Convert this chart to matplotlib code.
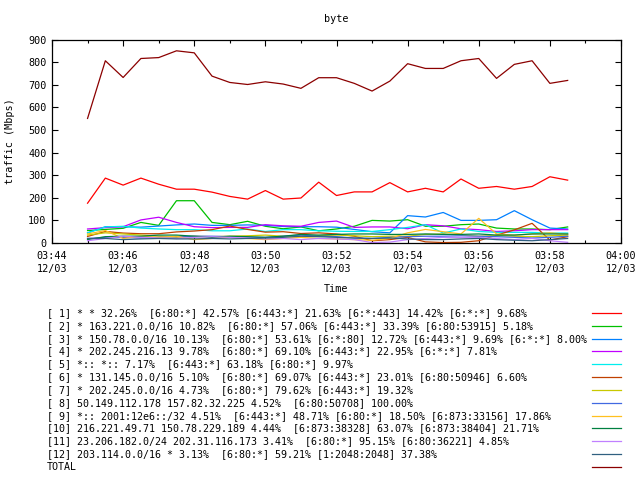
import matplotlib
matplotlib.use("Agg")
import matplotlib.pyplot as plt
import matplotlib.dates as mdates
import pandas as pd
from matplotlib.lines import Line2D

plt.rcParams['font.family'] = ['DejaVu Sans Mono']

times = pd.date_range('2023-12-03 03:45:00', periods=28, freq='30s')

s1 = [176, 287, 256, 287, 260, 238, 238, 225, 206, 194, 232, 194, 199, 269, 210, 226, 226, 267, 226, 242, 226, 283, 242, 250, 238, 250, 293, 278]
s2 = [55, 60, 65, 91, 78, 187, 187, 91, 81, 96, 74, 63, 71, 54, 62, 74, 100, 97, 103, 74, 74, 81, 84, 66, 62, 62, 59, 71]
s3 = [45, 72, 72, 70, 75, 80, 84, 78, 78, 80, 78, 73, 72, 72, 70, 60, 50, 45, 121, 115, 135, 100, 100, 103, 143, 103, 66, 62]
s4 = [62, 68, 72, 102, 114, 91, 72, 68, 69, 69, 81, 76, 74, 91, 97, 69, 71, 71, 63, 81, 76, 63, 59, 51, 54, 59, 59, 59]
s5 = [44, 71, 74, 66, 62, 59, 59, 54, 54, 62, 51, 59, 59, 54, 52, 51, 51, 59, 69, 81, 44, 62, 51, 47, 47, 47, 44, 44]
s6 = [29, 51, 44, 41, 41, 49, 53, 59, 75, 60, 48, 50, 42, 45, 40, 30, 10, 15, 25, 5, 2, 3, 10, 35, 58, 87, 13, 28]
s7 = [35, 45, 40, 35, 30, 25, 30, 28, 30, 32, 35, 30, 30, 33, 35, 32, 28, 30, 30, 38, 40, 35, 30, 33, 30, 28, 32, 35]
s8 = [20, 25, 25, 22, 25, 28, 30, 30, 28, 25, 25, 30, 35, 30, 28, 22, 20, 25, 28, 30, 30, 32, 30, 28, 25, 22, 25, 30]
s9 = [40, 55, 20, 30, 25, 30, 15, 20, 25, 20, 15, 20, 25, 20, 18, 15, 12, 20, 45, 60, 50, 40, 109, 40, 35, 40, 45, 38]
s10 = [15, 28, 30, 30, 35, 35, 30, 25, 30, 28, 25, 30, 38, 35, 38, 40, 40, 38, 38, 40, 38, 38, 40, 35, 35, 40, 40, 40]
s11 = [10, 20, 30, 25, 22, 20, 25, 28, 25, 22, 18, 20, 15, 20, 18, 15, 2, 4, 15, 20, 25, 25, 25, 20, 15, 20, 10, 3]
s12 = [20, 20, 15, 18, 20, 18, 18, 20, 18, 20, 22, 25, 30, 28, 25, 22, 20, 22, 18, 15, 15, 18, 20, 15, 12, 10, 15, 20]
total = [551, 806, 732, 816, 820, 850, 841, 738, 710, 701, 713, 703, 684, 731, 731, 706, 672, 716, 793, 772, 772, 806, 816, 728, 790, 806, 706, 719]

labels = [
    "[ 1] * * 32.26%  [6:80:*] 42.57% [6:443:*] 21.63% [6:*:443] 14.42% [6:*:*] 9.68%",
    "[ 2] * 163.221.0.0/16 10.82%  [6:80:*] 57.06% [6:443:*] 33.39% [6:80:53915] 5.18%",
    "[ 3] * 150.78.0.0/16 10.13%  [6:80:*] 53.61% [6:*:80] 12.72% [6:443:*] 9.69% [6:*:*] 8.00%",
    "[ 4] * 202.245.216.13 9.78%  [6:80:*] 69.10% [6:443:*] 22.95% [6:*:*] 7.81%",
    "[ 5] *:: *:: 7.17%  [6:443:*] 63.18% [6:80:*] 9.97%",
    "[ 6] * 131.145.0.0/16 5.10%  [6:80:*] 69.07% [6:443:*] 23.01% [6:80:50946] 6.60%",
    "[ 7] * 202.245.0.0/16 4.73%  [6:80:*] 79.62% [6:443:*] 19.32%",
    "[ 8] 50.149.112.178 157.82.32.225 4.52%  [6:80:50708] 100.00%",
    "[ 9] *:: 2001:12e6::/32 4.51%  [6:443:*] 48.71% [6:80:*] 18.50% [6:873:33156] 17.86%",
    "[10] 216.221.49.71 150.78.229.189 4.44%  [6:873:38328] 63.07% [6:873:38404] 21.71%",
    "[11] 23.206.182.0/24 202.31.116.173 3.41%  [6:80:*] 95.15% [6:80:36221] 4.85%",
    "[12] 203.114.0.0/16 * 3.13%  [6:80:*] 59.21% [1:2048:2048] 37.38%",
    "TOTAL",
]
colors = ["#ff0000", "#00c000", "#0080ff", "#c000ff", "#00eeee", "#c04000",
          "#c8c800", "#4169e1", "#ffc020", "#008040", "#c080ff", "#306080", "#8b0000"]
series = [s1, s2, s3, s4, s5, s6, s7, s8, s9, s10, s11, s12, total]

W, H = 640, 480
fig = plt.figure(figsize=(6.4, 4.8), dpi=100)
ax = fig.add_axes([52 / W, 1 - 243 / H, (621 - 52) / W, (243 - 39.5) / H])

for ys, c in zip(series, colors):
    ax.plot(times, ys, color=c, lw=0.9)

ax.set_ylim(0, 900)
ax.set_yticks(range(0, 901, 100))
ax.set_xlim(pd.Timestamp('2023-12-03 03:44:00'), pd.Timestamp('2023-12-03 04:00:00'))
ax.xaxis.set_major_locator(mdates.MinuteLocator(byminute=range(0, 60, 2)))
ax.xaxis.set_minor_locator(mdates.MinuteLocator())
ax.xaxis.set_major_formatter(mdates.DateFormatter('%H:%M\n%m/%d'))
ax.tick_params(which='both', direction='in', top=True, right=True, width=0.8,
               labelsize=7.3, colors='black')
ax.tick_params(which='major', length=4.5, pad=4)
ax.tick_params(which='minor', length=2.5)
ax.tick_params(axis='x', which='major', pad=6)
for lab in ax.get_xticklabels():
    lab.set_linespacing(1.3)
for sp in ax.spines.values():
    sp.set_linewidth(0.9)

fig.text(336 / W, 1 - 19 / H, "byte", ha='center', va='center', fontsize=7.3)
fig.text(10 / W, 1 - 141 / H, "traffic (Mbps)", rotation=90, ha='center', va='center', fontsize=7.3)
fig.text(336 / W, 1 - 289 / H, "Time", ha='center', va='center', fontsize=7.3)

row0, dy = 313, 12.83
for i, (lab, c) in enumerate(zip(labels, colors)):
    y = 1 - (row0 + i * dy) / H
    fig.text(47 / W, y, lab, ha='left', va='center', fontsize=7.2)
    fig.add_artist(Line2D([592 / W, 621 / W], [y, y], color=c, lw=0.9,
                          transform=fig.transFigure))

fig.savefig("out.png", dpi=100)
